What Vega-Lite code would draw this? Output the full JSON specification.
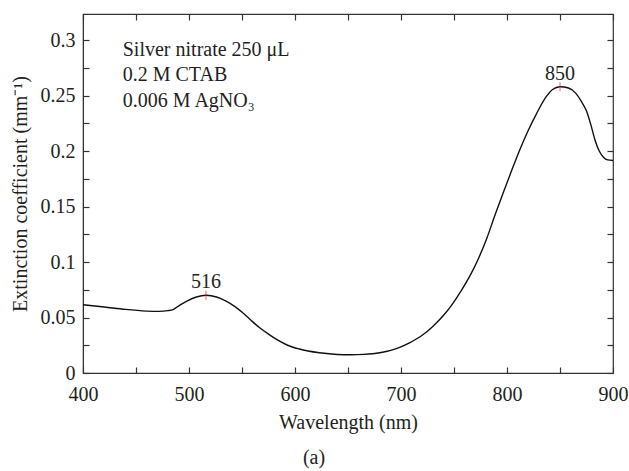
{
  "$schema": "https://vega.github.io/schema/vega-lite/v6.json",
  "width": 530,
  "height": 359,
  "autosize": {"type": "none"},
  "padding": {"left": 83, "top": 14, "right": 16, "bottom": 98},
  "background": "white",
  "config": {
    "view": {"stroke": "#333333", "strokeWidth": 1.2},
    "font": "Liberation Serif",
    "axis": {
      "labelFont": "Liberation Serif",
      "titleFont": "Liberation Serif",
      "labelFontSize": 20,
      "titleFontSize": 20,
      "labelColor": "#231f20",
      "titleColor": "#231f20",
      "titleFontWeight": "normal",
      "domainColor": "#333333",
      "tickColor": "#333333",
      "tickWidth": 1.2,
      "grid": false
    },
    "title": {"font": "Liberation Serif", "fontSize": 20, "fontWeight": "normal", "color": "#231f20"}
  },
  "title": {"text": "(a)", "orient": "bottom", "anchor": "middle", "frame": "group", "dx": -34, "offset": 16},
  "datasets": {
    "curve": [
      {"wl": 400, "ext": 0.0615},
      {"wl": 420, "ext": 0.0595},
      {"wl": 440, "ext": 0.0573},
      {"wl": 460, "ext": 0.0558},
      {"wl": 472, "ext": 0.0555},
      {"wl": 480, "ext": 0.0562},
      {"wl": 485, "ext": 0.0572},
      {"wl": 491, "ext": 0.0610},
      {"wl": 498, "ext": 0.0648},
      {"wl": 507, "ext": 0.0685},
      {"wl": 516, "ext": 0.0700},
      {"wl": 526, "ext": 0.0685},
      {"wl": 535, "ext": 0.0647},
      {"wl": 543, "ext": 0.0600},
      {"wl": 551, "ext": 0.0540},
      {"wl": 559, "ext": 0.0470},
      {"wl": 567, "ext": 0.0405},
      {"wl": 575, "ext": 0.0350},
      {"wl": 583, "ext": 0.0300},
      {"wl": 593, "ext": 0.0250},
      {"wl": 604, "ext": 0.0216},
      {"wl": 623, "ext": 0.0182},
      {"wl": 640, "ext": 0.0167},
      {"wl": 652, "ext": 0.0165},
      {"wl": 665, "ext": 0.0168},
      {"wl": 680, "ext": 0.0182},
      {"wl": 695, "ext": 0.0218},
      {"wl": 708, "ext": 0.0272},
      {"wl": 720, "ext": 0.0340},
      {"wl": 730, "ext": 0.0420},
      {"wl": 740, "ext": 0.0518},
      {"wl": 749, "ext": 0.0628},
      {"wl": 757, "ext": 0.0745},
      {"wl": 765, "ext": 0.0875},
      {"wl": 773, "ext": 0.1030},
      {"wl": 781, "ext": 0.1215},
      {"wl": 788, "ext": 0.1405},
      {"wl": 796, "ext": 0.1612},
      {"wl": 804, "ext": 0.1815},
      {"wl": 812, "ext": 0.2010},
      {"wl": 820, "ext": 0.2185},
      {"wl": 828, "ext": 0.2340},
      {"wl": 837, "ext": 0.2490},
      {"wl": 843, "ext": 0.2555},
      {"wl": 850, "ext": 0.2580},
      {"wl": 858, "ext": 0.2568},
      {"wl": 865, "ext": 0.2520},
      {"wl": 870, "ext": 0.2450},
      {"wl": 875, "ext": 0.2360},
      {"wl": 879, "ext": 0.2240},
      {"wl": 883, "ext": 0.2100},
      {"wl": 887, "ext": 0.2000},
      {"wl": 891, "ext": 0.1945},
      {"wl": 895, "ext": 0.1920},
      {"wl": 900, "ext": 0.1915}
    ],
    "peaks": [
      {"wl": 516, "ext": 0.0700, "label": "516"},
      {"wl": 850, "ext": 0.2580, "label": "850"}
    ],
    "notes": [
      {"wl": 437.5, "ext": 0.2861, "text": "Silver nitrate 250 μL"},
      {"wl": 437.5, "ext": 0.2627, "text": "0.2 M CTAB"},
      {"wl": 437.5, "ext": 0.2399, "text": "0.006 M AgNO₃"}
    ]
  },
  "layer": [
    {
      "data": {"name": "curve"},
      "mark": {"type": "line", "color": "#111111", "strokeWidth": 1.4, "interpolate": "monotone"},
      "encoding": {
        "x": {
          "field": "wl", "type": "quantitative",
          "scale": {"domain": [400, 900], "nice": false, "zero": false},
          "axis": {
            "orient": "bottom",
            "title": "Wavelength (nm)",
            "values": [400, 450, 500, 550, 600, 650, 700, 750, 800, 850, 900],
            "labelExpr": "datum.value % 100 == 0 ? datum.label : ''",
            "tickSize": -6,
            "labelPadding": 17,
            "titlePadding": 8,
            "labelFlush": false,
            "labelOverlap": false
          }
        },
        "y": {
          "field": "ext", "type": "quantitative",
          "scale": {"domain": [0, 0.3235], "nice": false},
          "axis": {
            "orient": "left",
            "title": "Extinction coefficient (mm⁻¹)",
            "values": [0, 0.025, 0.05, 0.075, 0.1, 0.125, 0.15, 0.175, 0.2, 0.225, 0.25, 0.275, 0.3],
            "labelExpr": "round(datum.value * 1000) % 50 == 0 ? format(datum.value, '~g') : ''",
            "tickSize": -6,
            "labelPadding": 14,
            "titlePadding": 10,
            "labelFlush": false,
            "labelOverlap": false
          }
        }
      }
    },
    {
      "data": {"name": "peaks"},
      "mark": {"type": "text", "baseline": "alphabetic", "align": "center", "dy": -7, "fontSize": 20, "color": "#231f20", "font": "Liberation Serif"},
      "encoding": {
        "x": {
          "field": "wl", "type": "quantitative",
          "axis": {
            "orient": "top",
            "title": null,
            "labels": false,
            "domain": false,
            "values": [400, 450, 500, 550, 600, 650, 700, 750, 800, 850, 900],
            "tickSize": -6
          }
        },
        "y": {
          "field": "ext", "type": "quantitative",
          "axis": {
            "orient": "right",
            "title": null,
            "labels": false,
            "domain": false,
            "values": [0, 0.025, 0.05, 0.075, 0.1, 0.125, 0.15, 0.175, 0.2, 0.225, 0.25, 0.275, 0.3],
            "tickSize": -6
          }
        },
        "text": {"field": "label"}
      }
    },
    {
      "data": {"name": "peaks"},
      "mark": {"type": "tick", "orient": "vertical", "color": "#e8202a", "size": 9, "thickness": 1},
      "encoding": {
        "x": {"field": "wl", "type": "quantitative", "axis": null},
        "y": {"field": "ext", "type": "quantitative", "axis": null}
      }
    },
    {
      "data": {"name": "notes"},
      "mark": {"type": "text", "align": "left", "baseline": "alphabetic", "fontSize": 20, "color": "#231f20", "font": "Liberation Serif"},
      "encoding": {
        "x": {"field": "wl", "type": "quantitative", "axis": null},
        "y": {"field": "ext", "type": "quantitative", "axis": null},
        "text": {"field": "text"}
      }
    }
  ],
  "resolve": {"axis": {"x": "independent", "y": "independent"}}
}
